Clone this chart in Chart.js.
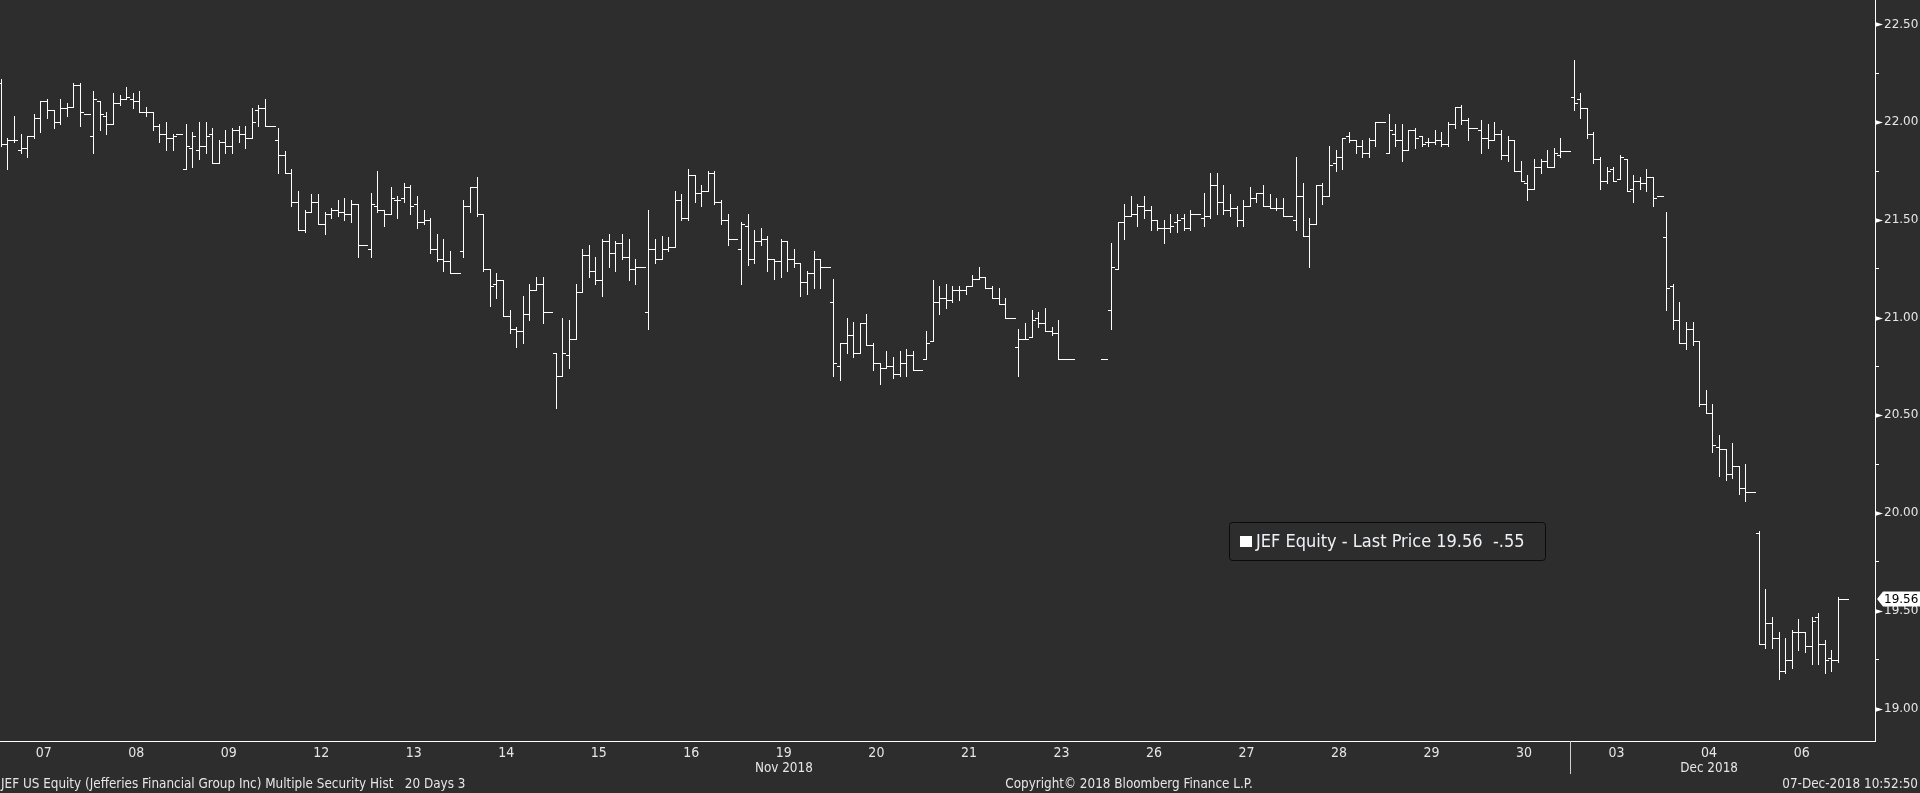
<!DOCTYPE html>
<html>
<head>
<meta charset="utf-8">
<title>JEF US Equity - 20 Days</title>
<style>
  html, body { margin: 0; padding: 0; background: #2d2d2d; overflow: hidden; }
  #wrap { position: relative; width: 1920px; height: 793px; }
</style>
<script src="https://cdn.jsdelivr.net/npm/chart.js@4.4.1/dist/chart.umd.min.js"></script>
</head>
<body>
<div id="wrap"><canvas id="priceChart"></canvas></div>
<script>
// 30 minute bars, 14 slots per session (the last slot is the closing print)
// each bar is [open, high, low, close], null = no trade in that slot
const nov07 = [[22.20,22.22,21.88,21.89],[21.89,21.92,21.76,21.91],[21.91,22.03,21.90,21.91],[21.86,21.94,21.84,21.87],[21.87,21.93,21.82,21.93],[21.93,22.04,21.92,22.02],[22.02,22.11,21.95,22.11],[22.11,22.12,22.02,22.06],[22.06,22.06,21.97,22.00],[22.00,22.12,21.99,22.07],[22.07,22.10,22.03,22.08],[22.08,22.20,22.08,22.19],[22.19,22.20,21.98,22.05],[22.04,22.04,22.04,22.04]];
const nov08 = [[21.93,22.16,21.84,22.12],[22.11,22.11,21.96,22.04],[22.03,22.05,21.94,21.99],[21.99,22.15,21.99,22.10],[22.10,22.14,22.09,22.12],[22.12,22.18,22.12,22.13],[22.12,22.15,22.07,22.11],[22.11,22.16,22.05,22.05],[22.05,22.08,22.03,22.05],[22.05,22.05,21.96,21.98],[21.98,21.99,21.90,21.94],[21.94,22.00,21.86,21.92],[21.92,21.94,21.86,21.93],[21.94,21.94,21.94,21.94]];
const nov09 = [[21.76,21.99,21.76,21.88],[21.87,21.95,21.77,21.93],[21.86,22.00,21.81,21.88],[21.88,22.00,21.84,21.93],[21.94,21.97,21.79,21.79],[21.79,21.91,21.79,21.90],[21.90,21.96,21.84,21.88],[21.88,21.97,21.84,21.96],[21.96,21.98,21.90,21.94],[21.94,21.98,21.87,21.92],[21.92,22.07,21.92,22.00],[22.06,22.09,21.98,22.07],[22.07,22.12,21.98,21.98],[21.98,21.98,21.98,21.98]];
const nov12 = [[21.91,21.97,21.74,21.83],[21.83,21.85,21.74,21.74],[21.74,21.76,21.57,21.59],[21.59,21.65,21.45,21.45],[21.45,21.55,21.44,21.54],[21.54,21.63,21.54,21.59],[21.59,21.63,21.48,21.48],[21.48,21.54,21.43,21.53],[21.53,21.56,21.51,21.55],[21.55,21.60,21.52,21.54],[21.54,21.61,21.50,21.53],[21.53,21.60,21.49,21.58],[21.58,21.58,21.31,21.37],[21.37,21.37,21.37,21.37]];
const nov13 = [[21.35,21.64,21.31,21.58],[21.57,21.75,21.54,21.55],[21.55,21.55,21.47,21.53],[21.53,21.67,21.53,21.61],[21.60,21.62,21.51,21.60],[21.61,21.69,21.59,21.67],[21.67,21.68,21.53,21.57],[21.58,21.62,21.46,21.49],[21.49,21.55,21.48,21.50],[21.50,21.51,21.33,21.35],[21.35,21.43,21.29,21.30],[21.30,21.40,21.24,21.29],[21.29,21.34,21.23,21.23],[21.23,21.23,21.23,21.23]];
const nov14 = [[21.34,21.60,21.31,21.57],[21.57,21.67,21.54,21.67],[21.67,21.72,21.52,21.53],[21.53,21.53,21.24,21.25],[21.25,21.25,21.06,21.16],[21.17,21.23,21.10,21.19],[21.19,21.19,21.01,21.01],[21.01,21.04,20.92,20.94],[20.94,20.95,20.85,20.93],[20.93,21.11,20.87,21.02],[21.02,21.17,20.99,21.14],[21.14,21.21,21.14,21.17],[21.17,21.21,20.97,21.03],[21.03,21.03,21.03,21.03]];
const nov15 = [[20.82,20.82,20.54,20.70],[20.70,21.00,20.70,20.82],[20.81,20.99,20.74,20.89],[20.89,21.17,20.89,21.13],[21.13,21.35,21.13,21.32],[21.32,21.37,21.21,21.24],[21.24,21.31,21.17,21.19],[21.19,21.40,21.11,21.39],[21.39,21.43,21.26,21.33],[21.33,21.39,21.24,21.38],[21.38,21.43,21.30,21.31],[21.31,21.40,21.19,21.25],[21.25,21.30,21.17,21.26],[21.26,21.26,21.26,21.26]];
const nov16 = [[21.03,21.55,20.94,21.35],[21.35,21.40,21.28,21.30],[21.30,21.42,21.30,21.35],[21.35,21.41,21.34,21.36],[21.36,21.65,21.36,21.60],[21.60,21.63,21.50,21.51],[21.51,21.76,21.50,21.73],[21.73,21.73,21.59,21.64],[21.64,21.68,21.57,21.65],[21.65,21.75,21.65,21.74],[21.74,21.75,21.58,21.59],[21.59,21.60,21.48,21.50],[21.50,21.53,21.37,21.40],[21.40,21.40,21.40,21.40]];
const nov19 = [[21.35,21.49,21.17,21.48],[21.47,21.53,21.27,21.30],[21.30,21.45,21.28,21.39],[21.39,21.46,21.37,21.40],[21.40,21.42,21.24,21.30],[21.30,21.30,21.20,21.29],[21.29,21.40,21.21,21.39],[21.39,21.39,21.24,21.30],[21.30,21.35,21.26,21.28],[21.28,21.28,21.11,21.18],[21.18,21.24,21.12,21.23],[21.23,21.34,21.15,21.30],[21.30,21.30,21.15,21.26],[21.26,21.26,21.26,21.26]];
const nov20 = [[21.08,21.20,20.70,20.77],[20.75,20.87,20.68,20.87],[20.87,21.00,20.82,20.91],[20.91,20.98,20.80,20.82],[20.82,20.97,20.82,20.97],[20.97,21.02,20.86,20.86],[20.86,20.87,20.73,20.77],[20.77,20.77,20.66,20.74],[20.74,20.83,20.74,20.75],[20.75,20.80,20.69,20.71],[20.71,20.83,20.70,20.77],[20.77,20.84,20.70,20.81],[20.81,20.83,20.73,20.73],[20.73,20.73,20.73,20.73]];
const nov21 = [[20.79,20.93,20.79,20.87],[20.88,21.19,20.88,21.08],[21.08,21.16,21.02,21.10],[21.10,21.17,21.05,21.09],[21.09,21.16,21.08,21.14],[21.14,21.16,21.09,21.14],[21.14,21.16,21.12,21.16],[21.16,21.22,21.16,21.20],[21.20,21.26,21.20,21.21],[21.21,21.21,21.15,21.15],[21.15,21.16,21.10,21.10],[21.10,21.15,21.07,21.07],[21.07,21.10,21.00,21.00],[21.00,21.00,21.00,21.00]];
const nov23 = [[20.85,20.94,20.70,20.89],[20.89,20.97,20.89,20.89],[20.90,21.04,20.90,20.99],[21.00,21.03,20.95,20.97],[20.97,21.05,20.93,20.93],[20.93,20.95,20.91,20.92],[20.92,20.99,20.79,20.79],[20.79,20.79,20.79,20.79],[20.79,20.79,20.79,20.79],null,null,null,null,[20.79,20.79,20.79,20.79]];
const nov26 = [[21.04,21.38,20.94,21.26],[21.25,21.49,21.25,21.49],[21.49,21.58,21.40,21.52],[21.52,21.62,21.52,21.53],[21.53,21.58,21.47,21.57],[21.57,21.62,21.51,21.55],[21.55,21.57,21.45,21.50],[21.50,21.50,21.45,21.46],[21.46,21.50,21.38,21.46],[21.46,21.53,21.44,21.47],[21.49,21.53,21.44,21.50],[21.51,21.53,21.45,21.46],[21.46,21.55,21.45,21.53],[21.53,21.53,21.53,21.53]];
const nov27 = [[21.51,21.64,21.47,21.52],[21.52,21.74,21.51,21.68],[21.68,21.74,21.53,21.59],[21.59,21.68,21.53,21.55],[21.55,21.63,21.52,21.56],[21.56,21.57,21.47,21.50],[21.50,21.60,21.47,21.57],[21.57,21.67,21.57,21.61],[21.61,21.64,21.59,21.64],[21.64,21.68,21.57,21.57],[21.57,21.63,21.56,21.56],[21.56,21.61,21.55,21.56],[21.56,21.61,21.52,21.52],[21.52,21.52,21.52,21.52]];
const nov28 = [[21.50,21.82,21.45,21.62],[21.62,21.69,21.42,21.42],[21.42,21.51,21.26,21.48],[21.48,21.68,21.48,21.68],[21.68,21.69,21.58,21.62],[21.62,21.88,21.62,21.78],[21.79,21.86,21.75,21.82],[21.82,21.92,21.76,21.92],[21.93,21.95,21.90,21.91],[21.91,21.91,21.84,21.88],[21.88,21.91,21.82,21.84],[21.84,21.92,21.82,21.91],[21.91,22.00,21.88,22.00],[22.00,22.00,22.00,22.00]];
const nov29 = [[21.84,22.04,21.84,21.96],[21.94,21.99,21.88,21.91],[21.91,21.99,21.80,21.86],[21.86,21.96,21.86,21.96],[21.96,21.97,21.87,21.92],[21.93,21.93,21.88,21.89],[21.90,21.92,21.88,21.90],[21.90,21.96,21.89,21.91],[21.91,21.95,21.88,21.89],[21.89,22.00,21.88,21.99],[21.99,22.08,21.97,22.08],[22.08,22.09,21.99,22.01],[22.01,22.02,21.91,21.97],[21.97,21.97,21.97,21.97]];
const nov30 = [[21.96,22.01,21.84,21.92],[21.92,21.99,21.87,21.91],[21.91,22.00,21.91,21.94],[21.94,21.96,21.81,21.83],[21.83,21.93,21.80,21.91],[21.91,21.91,21.75,21.75],[21.75,21.80,21.70,21.70],[21.69,21.73,21.60,21.66],[21.66,21.81,21.66,21.77],[21.77,21.81,21.74,21.80],[21.80,21.86,21.77,21.77],[21.77,21.87,21.77,21.84],[21.83,21.92,21.82,21.85],[21.85,21.85,21.85,21.85]];
const dec03 = [[22.13,22.32,22.06,22.10],[22.12,22.15,22.02,22.07],[22.07,22.07,21.92,21.94],[21.94,21.95,21.79,21.81],[21.81,21.82,21.66,21.70],[21.70,21.77,21.69,21.75],[21.76,21.77,21.70,21.70],[21.71,21.83,21.71,21.82],[21.81,21.81,21.65,21.65],[21.66,21.73,21.59,21.70],[21.70,21.72,21.66,21.69],[21.69,21.76,21.65,21.72],[21.72,21.72,21.57,21.61],[21.62,21.62,21.62,21.62]];
const dec04 = [[21.41,21.54,21.04,21.15],[21.16,21.17,20.94,20.99],[20.99,21.08,20.87,20.87],[20.87,20.98,20.84,20.94],[20.94,20.98,20.86,20.88],[20.88,20.88,20.55,20.56],[20.56,20.63,20.51,20.51],[20.51,20.56,20.31,20.35],[20.34,20.40,20.19,20.33],[20.33,20.33,20.17,20.20],[20.20,20.36,20.18,20.24],[20.24,20.24,20.10,20.13],[20.13,20.25,20.06,20.11],[20.11,20.11,20.11,20.11]];
const dec06 = [[19.90,19.91,19.33,19.33],[19.33,19.61,19.31,19.44],[19.44,19.47,19.31,19.36],[19.36,19.39,19.15,19.19],[19.19,19.36,19.18,19.25],[19.25,19.40,19.21,19.39],[19.39,19.46,19.30,19.39],[19.39,19.39,19.29,19.32],[19.32,19.47,19.23,19.45],[19.47,19.49,19.23,19.33],[19.33,19.35,19.18,19.25],[19.26,19.30,19.19,19.25],[19.25,19.57,19.24,19.56],[19.56,19.56,19.56,19.56]];

const sessions = [nov07, nov08, nov09, nov12, nov13, nov14, nov15, nov16, nov19, nov20, nov21, nov23, nov26, nov27, nov28, nov29, nov30, dec03, dec04, dec06];
const dayLabels = ['07','08','09','12','13','14','15','16','19','20','21','23','26','27','28','29','30','03','04','06'];
const monthLabels = ['Nov 2018', 'Dec 2018'];
const monthLabelDays = [8, 18];      // session under which the month name sits
const monthBreakDays = [17];         // first session of a new month
const priceTicks = [19.00, 19.25, 19.50, 19.75, 20.00, 20.25, 20.50, 20.75, 21.00, 21.25, 21.50, 21.75, 22.00, 22.25, 22.50];
const slotsPerDay = 14;

const ticker = 'JEF Equity';
const footLeft = 'JEF US Equity (Jefferies Financial Group Inc) Multiple Security Hist   20 Days 3';
const footMid = 'Copyright\u00A9 2018 Bloomberg Finance L.P.';
const footRight = '07-Dec-2018 10:52:50';

const BG = '#2d2d2d';
const FG = '#e6e6e6';
const NARROW = '"Liberation Sans Narrow", "Arial Narrow", "DejaVu Sans Condensed", sans-serif';

// flatten sessions into bars on a slot index axis
const bars = [];
sessions.forEach(function (day, d) {
  day.forEach(function (b, s) {
    if (b) bars.push({ x: d * slotsPerDay + s, o: b[0], h: b[1], l: b[2], c: b[3] });
  });
});

const lastDay = sessions[sessions.length - 1];
const prevDay = sessions[sessions.length - 2];
const lastPrice = lastDay[lastDay.length - 1][3];
const prevClose = prevDay[prevDay.length - 1][3];
const change = (lastPrice - prevClose).toFixed(2).replace(/^(-?)0\./, '$1.');

const bgPlugin = {
  id: 'bg',
  beforeDraw(chart) {
    const ctx = chart.ctx;
    ctx.save();
    ctx.fillStyle = BG;
    ctx.fillRect(0, 0, chart.width, chart.height);
    ctx.restore();
  }
};

// crisp Bloomberg style bars: high-low line, open tick left, close tick right
const ohlcPlugin = {
  id: 'ohlc',
  afterDatasetsDraw(chart) {
    const ctx = chart.ctx;
    const ys = chart.scales.y;
    const area = chart.chartArea;
    const meta = chart.getDatasetMeta(0);
    ctx.save();
    ctx.beginPath();
    ctx.rect(area.left, area.top, area.right - area.left, area.bottom - area.top);
    ctx.clip();
    ctx.fillStyle = '#ffffff';
    meta.data.forEach(function (el, i) {
      const b = bars[i];
      const px = Math.round(el.x);
      const top = Math.round(ys.getPixelForValue(b.h));
      const bot = Math.round(ys.getPixelForValue(b.l));
      ctx.fillRect(px, top, 1, bot - top + 1);
      ctx.fillRect(px - 3, Math.round(ys.getPixelForValue(b.o)), 3, 1);
      ctx.fillRect(px + 1, Math.round(ys.getPixelForValue(b.c)), 3, 1);
    });
    ctx.restore();
  }
};

// narrow text drawn slightly squeezed, like the terminal font
function narrowText(ctx, text, x, y, align) {
  const sx = 0.955;
  ctx.save();
  ctx.translate(x, y);
  ctx.scale(sx, 1);
  ctx.textAlign = align;
  ctx.fillText(text, 0, 0);
  ctx.restore();
}

const decorPlugin = {
  id: 'decor',
  afterDraw(chart) {
    const ctx = chart.ctx;
    const xs = chart.scales.x;
    const ys = chart.scales.y;
    const area = chart.chartArea;
    ctx.save();

    // arrow heads on the major price ticks
    ctx.fillStyle = '#ffffff';
    priceTicks.forEach(function (v) {
      if (Math.round(v * 100) % 50 !== 0) return;
      const py = Math.round(ys.getPixelForValue(v)) + 0.5;
      ctx.beginPath();
      ctx.moveTo(area.right, py - 2.5);
      ctx.lineTo(area.right + 8, py);
      ctx.lineTo(area.right, py + 2.5);
      ctx.closePath();
      ctx.fill();
    });

    // month separator below the axis
    ctx.strokeStyle = '#cfcfcf';
    ctx.lineWidth = 1;
    monthBreakDays.forEach(function (d) {
      const px = Math.round(xs.getPixelForValue(d * slotsPerDay - 0.5)) + 0.5;
      ctx.beginPath();
      ctx.moveTo(px, area.bottom);
      ctx.lineTo(px, area.bottom + 33);
      ctx.stroke();
    });

    // month names
    ctx.fillStyle = FG;
    ctx.font = '14px ' + NARROW;
    ctx.textBaseline = 'middle';
    monthLabels.forEach(function (m, i) {
      narrowText(ctx, m, xs.getPixelForValue(monthLabelDays[i] * slotsPerDay + 6.5), area.bottom + 27, 'center');
    });

    // footer line
    const fy = chart.height - 9;
    narrowText(ctx, footLeft, 1, fy, 'left');
    narrowText(ctx, footMid, 1129, fy, 'center');
    narrowText(ctx, footRight, chart.width - 2, fy, 'right');

    // legend box
    const lx = 1229.5, ly = 522.5, lw = 316, lh = 38;
    ctx.fillStyle = BG;
    ctx.strokeStyle = '#0b0b0b';
    ctx.beginPath();
    ctx.roundRect(lx, ly, lw, lh, 3);
    ctx.fill();
    ctx.stroke();
    ctx.fillStyle = '#ffffff';
    ctx.fillRect(1240, 536, 12, 11);
    const legendText = ticker + ' - Last Price ' + lastPrice.toFixed(2) + '  ' + change;
    let size = 18;
    ctx.font = size + 'px "DejaVu Sans Condensed", "DejaVu Sans", sans-serif';
    while (ctx.measureText(legendText).width > 280 && size > 10) {
      size -= 0.5;
      ctx.font = size + 'px "DejaVu Sans Condensed", "DejaVu Sans", sans-serif';
    }
    ctx.fillStyle = '#eef2f6';
    ctx.textAlign = 'left';
    ctx.textBaseline = 'middle';
    ctx.fillText(legendText, 1256, 542);

    // last price tag on the axis
    const ty = ys.getPixelForValue(lastPrice);
    const tx = area.right + 2;
    ctx.fillStyle = '#ffffff';
    ctx.beginPath();
    ctx.moveTo(tx, ty);
    ctx.lineTo(tx + 6, ty - 7.5);
    ctx.lineTo(chart.width, ty - 7.5);
    ctx.lineTo(chart.width, ty + 7.5);
    ctx.lineTo(tx + 6, ty + 7.5);
    ctx.closePath();
    ctx.fill();
    ctx.fillStyle = '#000000';
    ctx.font = '12px "DejaVu Sans", sans-serif';
    ctx.textAlign = 'left';
    ctx.fillText(lastPrice.toFixed(2), area.right + 9, ty + 0.5);

    ctx.restore();
  }
};

const ctx = document.getElementById('priceChart').getContext('2d');
new Chart(ctx, {
  type: 'bar',
  data: {
    datasets: [{
      label: ticker,
      data: bars.map(function (b) { return { x: b.x, y: [b.l, b.h] }; }),
      backgroundColor: 'rgba(0,0,0,0)',
      borderWidth: 0,
      barThickness: 1
    }]
  },
  options: {
    responsive: true,
    maintainAspectRatio: false,
    animation: false,
    layout: { padding: 0 },
    plugins: {
      legend: { display: false },
      tooltip: { enabled: false }
    },
    scales: {
      x: {
        type: 'linear',
        offset: false,
        min: -0.104,
        max: 283.6,
        grid: { display: false, drawTicks: false },
        border: { display: true, color: '#ffffff', width: 1 },
        afterBuildTicks(scale) {
          scale.ticks = dayLabels.map(function (_, i) { return { value: i * slotsPerDay + 6.5 }; });
        },
        afterFit(scale) {
          scale.height = 52;
          scale.paddingLeft = 0;
          scale.paddingRight = 0;
        },
        ticks: {
          autoSkip: false,
          maxRotation: 0,
          padding: 4,
          color: FG,
          font: { family: NARROW, size: 14 },
          callback: function (value, index) { return dayLabels[index]; }
        }
      },
      y: {
        position: 'right',
        min: 18.834,
        max: 22.625,
        grid: { display: true, drawOnChartArea: false, drawTicks: true, tickLength: 4, color: '#ffffff' },
        border: { display: true, color: '#ffffff', width: 1 },
        afterBuildTicks(scale) {
          scale.ticks = priceTicks.map(function (v) { return { value: v }; });
        },
        afterFit(scale) {
          scale.width = 45;
          scale.paddingTop = 0;
          scale.paddingBottom = 0;
        },
        ticks: {
          padding: 5,
          color: FG,
          font: { family: '"DejaVu Sans", sans-serif', size: 12 },
          callback: function (value) {
            return Math.round(value * 100) % 50 === 0 ? Number(value).toFixed(2) : '';
          }
        }
      }
    }
  },
  plugins: [bgPlugin, ohlcPlugin, decorPlugin]
});
</script>
</body>
</html>
